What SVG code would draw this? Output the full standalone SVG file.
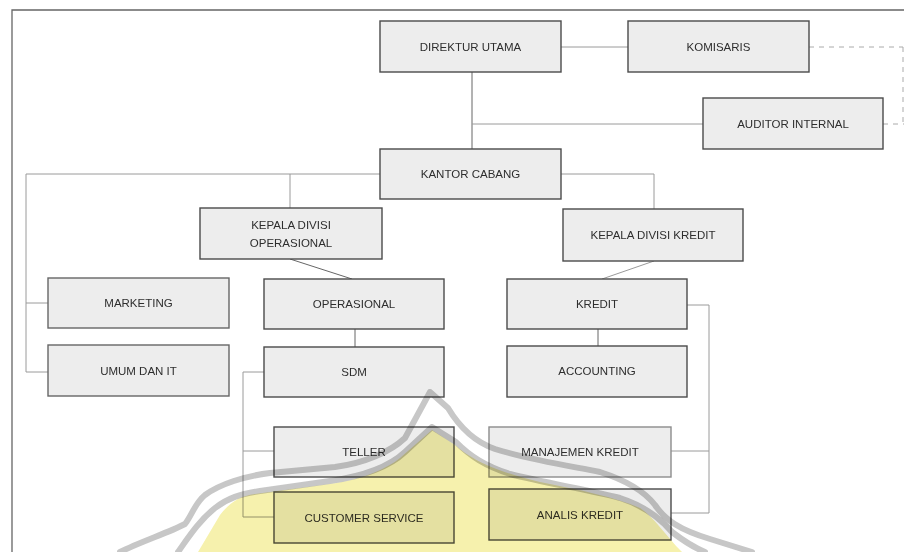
<svg xmlns="http://www.w3.org/2000/svg" width="904" height="552" viewBox="0 0 904 552">
<style>
.box{fill:#ededed;stroke:#4a4a4a;stroke-width:1.4}
.lt{stroke:#8c8c8c}
.md{stroke:#666}
.t{font-family:"Liberation Sans",Arial,sans-serif;font-size:11.5px;fill:#2e2e2e;text-anchor:middle}
.c{fill:none;stroke:#9a9a9a;stroke-width:1}
.cd{stroke:#666}
.d{stroke:#aaa;stroke-dasharray:5 5}
.wm{fill:none;stroke:#b4b4b4;stroke-width:6;stroke-linejoin:round;stroke-linecap:round;opacity:0.75}
</style>
<rect width="904" height="552" fill="#fff"/>
<g id="frame" fill="none" stroke="#666" stroke-width="1.3">
<polyline points="904,10 12,10 12,552"/>
</g>
<g id="connectors">
<line class="c" x1="561" y1="47" x2="628" y2="47"/>
<line class="c d" x1="809" y1="47" x2="903" y2="47"/>
<line class="c d" x1="903" y1="47" x2="903" y2="124"/>
<line class="c d" x1="883" y1="124" x2="904" y2="124"/>
<line class="c cd" x1="472" y1="72" x2="472" y2="149"/>
<line class="c" x1="472" y1="124" x2="703" y2="124"/>
<polyline class="c" points="561,174 654,174 654,209"/>
<polyline class="c" points="380,174 26,174 26,372 48,372"/>
<line class="c" x1="26" y1="303" x2="48" y2="303"/>
<line class="c" x1="290" y1="174" x2="290" y2="208"/>
<line class="c cd" x1="290" y1="259" x2="352" y2="279"/>
<line class="c" x1="654" y1="261" x2="602" y2="279"/>
<line class="c cd" x1="355" y1="329" x2="355" y2="347"/>
<line class="c cd" x1="598" y1="329" x2="598" y2="346"/>
<polyline class="c" points="264,372 243,372 243,517 274,517"/>
<line class="c" x1="243" y1="451" x2="274" y2="451"/>
<polyline class="c" points="687,305 709,305 709,513 671,513"/>
<line class="c" x1="671" y1="451" x2="709" y2="451"/>
</g>
<g id="direktur"><rect class="box" x="380" y="21" width="181" height="51"/><text class="t" x="470.5" y="50.5">DIREKTUR UTAMA</text></g>
<g id="komisaris"><rect class="box" x="628" y="21" width="181" height="51"/><text class="t" x="718.5" y="50.5">KOMISARIS</text></g>
<g id="auditor"><rect class="box" x="703" y="98" width="180" height="51"/><text class="t" x="793" y="127.5">AUDITOR INTERNAL</text></g>
<g id="kantor"><rect class="box" x="380" y="149" width="181" height="50"/><text class="t" x="470.5" y="178">KANTOR CABANG</text></g>
<g id="kadiv-op"><rect class="box" x="200" y="208" width="182" height="51"/><text class="t" x="291" y="229">KEPALA DIVISI</text><text class="t" x="291" y="247">OPERASIONAL</text></g>
<g id="kadiv-kredit"><rect class="box" x="563" y="209" width="180" height="52"/><text class="t" x="653" y="239">KEPALA DIVISI KREDIT</text></g>
<g id="marketing"><rect class="box md" x="48" y="278" width="181" height="50"/><text class="t" x="138.5" y="307">MARKETING</text></g>
<g id="operasional"><rect class="box" x="264" y="279" width="180" height="50"/><text class="t" x="354" y="308">OPERASIONAL</text></g>
<g id="kredit"><rect class="box" x="507" y="279" width="180" height="50"/><text class="t" x="597" y="308">KREDIT</text></g>
<g id="umum"><rect class="box md" x="48" y="345" width="181" height="51"/><text class="t" x="138.5" y="375">UMUM DAN IT</text></g>
<g id="sdm"><rect class="box" x="264" y="347" width="180" height="50"/><text class="t" x="354" y="376">SDM</text></g>
<g id="accounting"><rect class="box" x="507" y="346" width="180" height="51"/><text class="t" x="597" y="375">ACCOUNTING</text></g>
<g id="teller"><rect class="box" x="274" y="427" width="180" height="50"/><text class="t" x="364" y="456">TELLER</text></g>
<g id="manajemen"><rect class="box lt" x="489" y="427" width="182" height="50"/><text class="t" x="580" y="456">MANAJEMEN KREDIT</text></g>
<g id="cs"><rect class="box" x="274" y="492" width="180" height="51"/><text class="t" x="364" y="521.5">CUSTOMER SERVICE</text></g>
<g id="analis"><rect class="box" x="489" y="489" width="182" height="51"/><text class="t" x="580" y="518.5">ANALIS KREDIT</text></g>
<g id="watermark">
<path style="mix-blend-mode:multiply" fill="#f4ee98" opacity="0.8" d="M198,552 L220,515 C230,502 240,496 255,494 L330,484 C360,480 385,470 400,458 L432,430 L455,445 C470,458 490,470 540,482 C580,490 615,497 640,508 C655,518 665,535 682,552 Z"/>
<path class="wm" style="mix-blend-mode:multiply" d="M120,552 C140,542 170,532 185,524 C192,515 195,503 205,495 C220,484 245,476 270,473 L335,467 C365,463 390,452 405,438 L430,392 L448,408 C460,428 475,442 495,449 C530,460 570,466 600,472 C625,480 645,492 655,505 C665,520 680,530 710,539 L752,552"/>
<path class="wm" style="mix-blend-mode:multiply" d="M178,552 C190,535 200,520 215,508 C228,498 240,494 260,491 L330,481 C365,476 390,466 405,452 L432,427 L456,442 C470,456 485,466 510,474 C545,483 590,490 620,498 C645,506 660,518 672,532 C685,542 695,548 705,552"/>
</g>
</svg>
